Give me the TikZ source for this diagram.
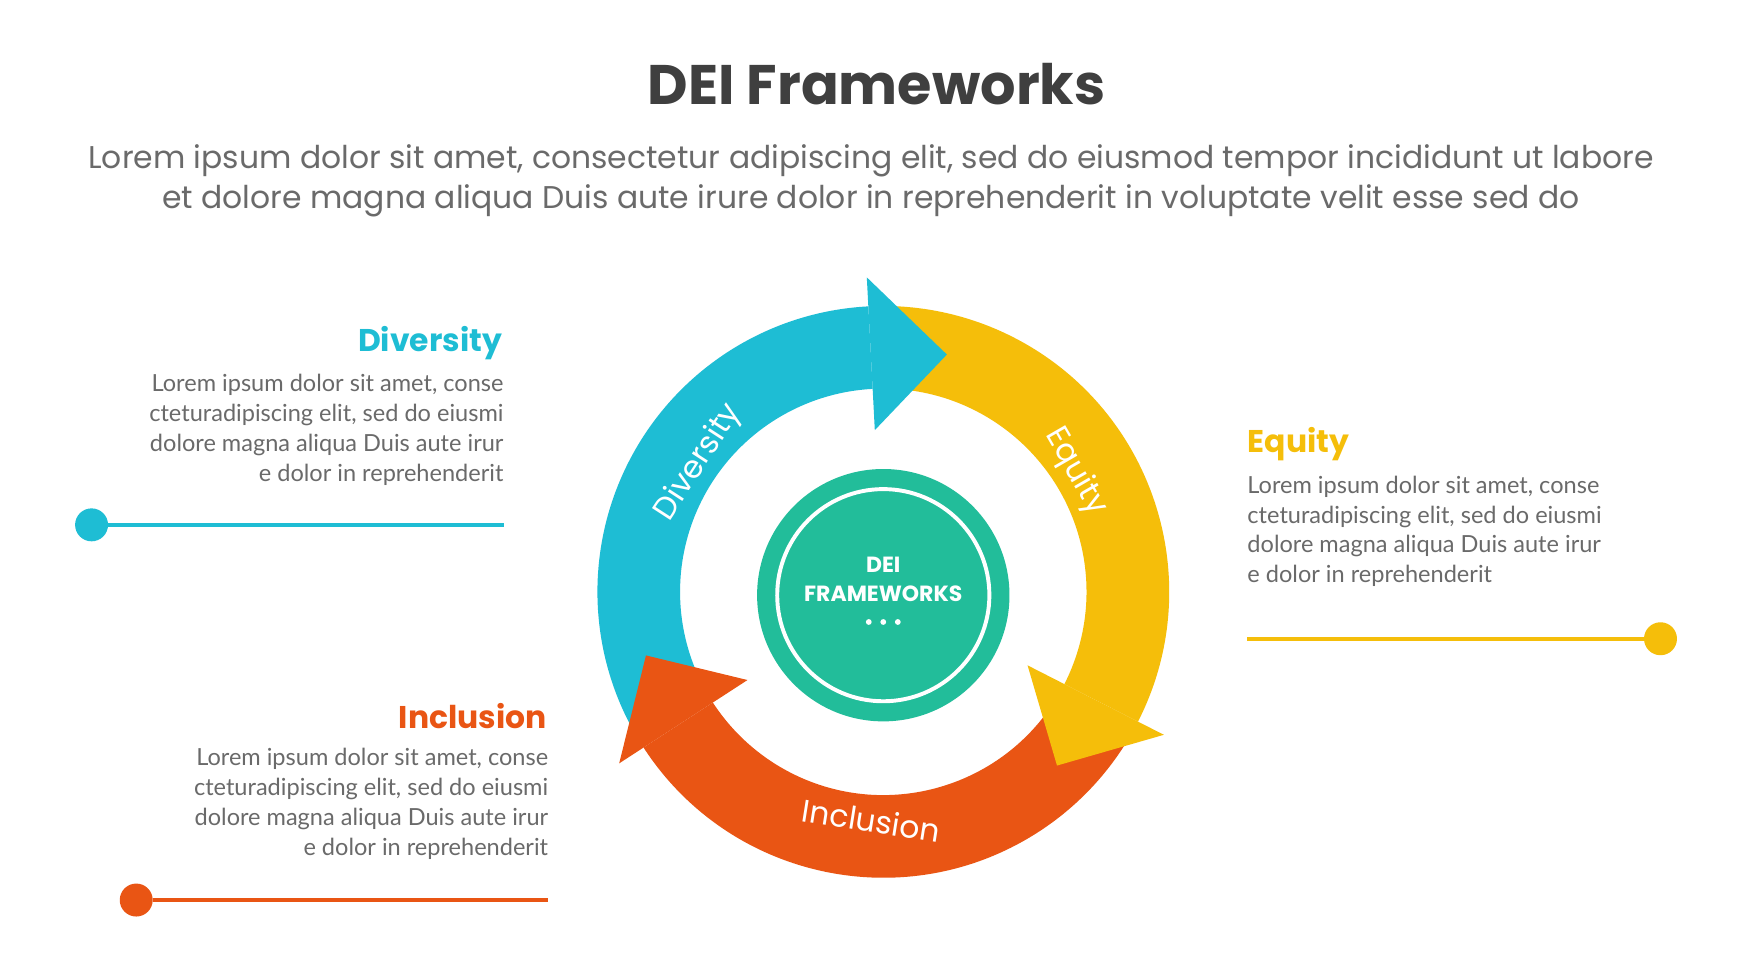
\documentclass[tikz,border=0pt]{standalone}
\usepackage{fontspec}
\setmainfont{Poppins}
\newfontfamily\lato{Lato}
\definecolor{cy}{HTML}{1EBDD4}
\definecolor{ye}{HTML}{F5BE0A}
\definecolor{orr}{HTML}{E95514}
\definecolor{gr}{HTML}{22BD9A}
\definecolor{tg}{HTML}{3F3F3F}
\definecolor{bg}{HTML}{6A6A6A}
\newcommand\ringbody[3]{\fill[#1] (#2:182) arc[start angle=#2,end angle=#3,radius=182] -- (#3:256) arc[start angle=#3,end angle=#2,radius=256] -- cycle;}
\newcommand\ringhead[3]{\fill[#1] (#2:178) -- (#2:145) -- (#3:220) -- (#2:282) -- (#2:250) -- cycle;}
\begin{document}
\begin{tikzpicture}[x=0.5mm,y=-0.5mm,
  head/.style={font=\bfseries\fontsize{40}{46}\selectfont},
  body/.style={font=\lato\fontsize{30}{38}\selectfont, text=bg, align=#1, inner sep=0},
  ringtxt/.style={text=white, font=\fontsize{40}{42}\selectfont},
  lineS/.style={line width=4.5pt}]
\useasboundingbox (0,0) rectangle (1560,877.6);
\fill[white] (0,0) rectangle (1560,877.6);
\node (title) at (785,75) {\bfseries\color{tg}\fontsize{71}{80}\selectfont DEI Frameworks};
\node[align=center, text=bg, font=\fontsize{40}{50}\selectfont] (sub) at (780,162) {Lorem ipsum dolor sit amet, consectetur adipiscing elit, sed do eiusmod tempor incididunt ut labore\\et dolore magna aliqua Duis aute irure dolor in reprehenderit in voluptate velit esse sed do};
\begin{scope}[shift={(791,530)}]
\ringbody{cy}{152}{267}
\ringbody{ye}{270}{387}
\ringbody{orr}{30}{147}
\ringhead{cy}{267}{285}
\ringhead{ye}{387}{405}
\ringhead{orr}{147}{165}
\fill[gr] (0,3) circle (113);
\draw[white, line width=5pt] (0,3) circle (95);
\node[ringtxt, rotate=57] (rd) at (215:202) {Diversity};
\node[ringtxt, rotate=-60] (re) at (328:203) {Equity};
\node[ringtxt, rotate=-9] (ri) at (93:205) {Inclusion};
\node[text=white, align=center, font=\bfseries\fontsize{28}{37}\selectfont] (ct) at (0,-11) {DEI\\FRAMEWORKS};
\end{scope}
\foreach \i in {-1,0,1} \fill[white] (791+\i*13,557) circle (2.6);
% Diversity
\node[head, text=cy, anchor=east] (hd) at (452,307) {Diversity};
\node[body=right, anchor=north east] (td) at (451,335) {Lorem ipsum dolor sit amet, conse\\cteturadipiscing elit, sed do eiusmi\\dolore magna aliqua Duis aute irur\\e dolor in reprehenderit};
\node[circle, fill=cy, minimum size=42, inner sep=0] (dd) at (82,470) {};
\coordinate (de) at (451,470);
\draw[cy, lineS] (dd) -- (de);
% Equity
\node[head, text=ye, anchor=west] (he) at (1115,398) {Equity};
\node[body=left, anchor=north west] (te) at (1117,426) {Lorem ipsum dolor sit amet, conse\\cteturadipiscing elit, sed do eiusmi\\dolore magna aliqua Duis aute irur\\e dolor in reprehenderit};
\node[circle, fill=ye, minimum size=42, inner sep=0] (ed) at (1487,572) {};
\coordinate (ee) at (1117,572);
\draw[ye, lineS] (ee) -- (ed);
% Inclusion
\node[head, text=orr, anchor=east] (hi) at (492,641) {Inclusion};
\node[body=right, anchor=north east] (ti) at (491,670) {Lorem ipsum dolor sit amet, conse\\cteturadipiscing elit, sed do eiusmi\\dolore magna aliqua Duis aute irur\\e dolor in reprehenderit};
\node[circle, fill=orr, minimum size=42, inner sep=0] (id) at (122,806) {};
\coordinate (ie) at (491,806);
\draw[orr, lineS] (id) -- (ie);
\end{tikzpicture}
\end{document}
